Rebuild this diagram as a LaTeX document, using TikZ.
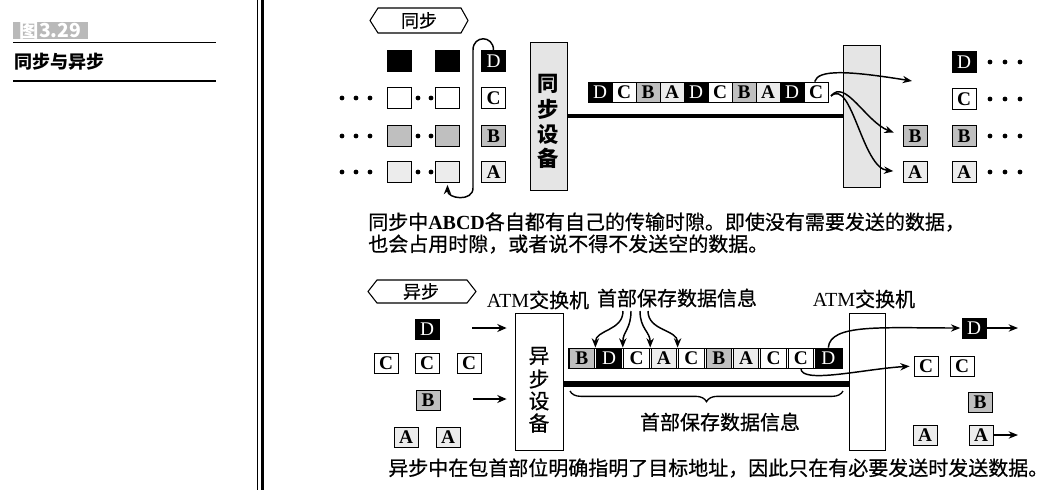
\documentclass[tikz,border=0pt]{standalone}
\usepackage{fontspec}
\setmainfont{Liberation Serif}
\newfontfamily\cjk{Noto Sans CJK SC}
\newfontfamily\cjkm[FakeBold=0.6]{Noto Sans CJK SC}
\usetikzlibrary{arrows.meta,decorations.pathreplacing,calc}
\begin{document}
\begin{tikzpicture}[x=0.75pt,y=-0.75pt,
  cell/.style={draw=black, line width=0.6pt, minimum width=18pt, minimum height=15.75pt, inner sep=0pt, font=\bfseries\fontsize{14.5pt}{14.5pt}\selectfont},
  bk/.style={cell, fill=black, text=white, font=\fontsize{14.5pt}{14.5pt}\selectfont},
  wh/.style={cell, fill=white},
  gd/.style={cell, fill=gray!50},
  gl/.style={cell, fill=gray!15},
  zh/.style={inner sep=0pt, font=\cjkm\fontsize{15pt}{15pt}\selectfont},
  zhv/.style={inner sep=0pt, font=\cjk\bfseries\fontsize{16pt}{16pt}\selectfont},
  arr/.style={line width=1.1pt, -{Stealth[length=7pt,width=5.5pt]}},
  fatarr/.style={line width=1.5pt, -{Stealth[length=7pt,width=6pt]}},
  tagline/.style={line width=0.8pt},
  dev/.style={draw=black, line width=0.6pt, inner sep=0pt},
]
\useasboundingbox (0,0) rectangle (1057,490);

% ---------- left panel ----------
\node[fill=gray!55, text=white, minimum width=56.25pt, minimum height=12.75pt, inner sep=0pt, font=\cjk\bfseries\fontsize{14.5pt}{14.5pt}\selectfont] (fig) at (50.5,30.5) {图3.29};
\draw[line width=1.1pt] (13,42.5) -- (216,42.5);
\node[anchor=west, inner sep=0pt, font=\cjk\bfseries\fontsize{13.5pt}{13.5pt}\selectfont] (ttl) at (14,62) {同步与异步};
\draw[line width=0.9pt] (13,81) -- (216,81);
\draw[line width=0.8pt] (257.5,0) -- (257.5,490);
\draw[line width=2.4pt] (262.5,0) -- (262.5,490);

% ---------- synchronous ----------
\draw[tagline] (370,20.5) -- (378,8) -- (461,8) -- (468,20.5) -- (461,33) -- (378,33) -- cycle;
\node[zh, font=\cjkm\fontsize{13.5pt}{13.5pt}\selectfont] (synctag) at (419,20.5) {同步};

\node[bk] (d1) at (399.5,61) {};
\node[bk] (d2) at (447.5,61) {};
\node[bk] (d3) at (493.5,61) {D};
\node[wh] (c1) at (399.5,98) {};
\node[wh] (c2) at (447.5,98) {};
\node[wh] (c3) at (493.5,98) {C};
\node[gd] (b1) at (399.5,136) {};
\node[gd] (b2) at (447.5,136) {};
\node[gd] (b3) at (493.5,136) {B};
\node[gl] (a1) at (399.5,172) {};
\node[gl] (a2) at (447.5,172) {};
\node[gl] (a3) at (493.5,172) {A};
\foreach \y in {98,136,172}{\foreach \x in {342,356,370,418,431}{\fill (\x,\y) circle (1.8pt);}}

\draw[arr, shorten >=1.5pt] (d3.north) .. controls +(0,-15) and +(0,-15) .. (473,50) -- (473,188) .. controls +(0,14) and +(0,16) .. (a2.south);

\node[dev, fill=gray!20, minimum width=27.75pt, minimum height=111pt] (syncdev) at (548.5,116) {};
\node[zhv] (sy1) at (548.5,84) {同};
\node[zhv] (sy2) at (548.5,109) {步};
\node[zhv] (sy3) at (548.5,134) {设};
\node[zhv] (sy4) at (548.5,158) {备};

\node[dev, fill=gray!20, minimum width=27.75pt, minimum height=106.5pt] (band) at (861.5,116) {};
\draw[line width=3.4pt] (syncdev.east) -- (band.west);

\foreach \s/\l [count=\i from 0] in {bk/D,wh/C,gd/B,gl/A,bk/D,wh/C,gd/B,gl/A,bk/D,wh/C}
  \node[\s, minimum height=15pt] (s\i) at (600+24*\i,92) {\l};

\node[bk] (rD) at (964,62) {D};
\node[wh] (rC) at (964,99) {C};
\node[gd] (rB2) at (964,136) {B};
\node[gl] (rA2) at (964,172) {A};
\node[gd] (rB1) at (915,136) {B};
\node[gl] (rA1) at (915,172) {A};
\foreach \y in {62,99,136,172}{\foreach \x in {990,1005,1020}{\fill (\x,\y) circle (1.8pt);}}

\coordinate (e1) at (912,81);
\coordinate (c0) at (831,96);
\draw[arr] ([xshift=-1pt]s9.north) .. controls (818,69) and (850,71) .. (e1);
\draw[arr, shorten >=7pt] (c0) .. controls (845,78) and (866,122) .. (rB1.west);
\draw[arr, shorten >=7pt] (c0) .. controls (852,78) and (862,168) .. (rA1.west);

\node[zh, anchor=west] (cap1) at (368,222) {同步中{\rmfamily\bfseries ABCD}各自都有自己的传输时隙。即使没有需要发送的数据，};
\node[zh, anchor=west] (cap2) at (368,244) {也会占用时隙，或者说不得不发送空的数据。};

% ---------- asynchronous ----------
\draw[tagline] (368,291.5) -- (377,280) -- (467,280) -- (476,291.5) -- (467,303) -- (377,303) -- cycle;
\node[zh, font=\cjkm\fontsize{13.5pt}{13.5pt}\selectfont] (asynctag) at (421,291.5) {异步};
\node[zh] (atm1) at (538,300) {{\rmfamily ATM}交换机};
\node[zh] (atm2) at (864,299) {{\rmfamily ATM}交换机};

\node[bk, minimum height=15pt] (aD) at (427,329) {D};
\node[wh, minimum height=15pt] (aC1) at (386,363) {C};
\node[wh, minimum height=15pt] (aC2) at (427,363) {C};
\node[wh, minimum height=15pt] (aC3) at (469,363) {C};
\node[gd, minimum height=15pt] (aB) at (428,400) {B};
\node[gl, minimum height=15pt] (aA1) at (406,437) {A};
\node[gl, minimum height=15pt] (aA2) at (448,437) {A};

\node[dev, fill=white, minimum width=36pt, minimum height=102.75pt] (adev) at (539,381.5) {};
\node[zh, font=\cjkm\fontsize{15.5pt}{15.5pt}\selectfont] (as1) at (539,356) {异};
\node[zh, font=\cjkm\fontsize{15.5pt}{15.5pt}\selectfont] (as2) at (539,379) {步};
\node[zh, font=\cjkm\fontsize{15.5pt}{15.5pt}\selectfont] (as3) at (539,401) {设};
\node[zh, font=\cjkm\fontsize{15.5pt}{15.5pt}\selectfont] (as4) at (539,423) {备};

\coordinate (pD) at (472,328);
\coordinate (pB) at (473,399);
\draw[fatarr, shorten >=6pt] (pD) -- (pD -| adev.west);
\draw[fatarr, shorten >=6pt] (pB) -- (pB -| adev.west);

\node[dev, fill=white, minimum width=27pt, minimum height=102.75pt] (atmbox) at (867,381.5) {};
\coordinate (ly) at (0,384);
\draw[line width=3.8pt] (adev.east |- ly) -- (atmbox.west |- ly);

\draw[line width=0.6pt] (568,348) rectangle (842,368);
\foreach \s/\l [count=\i from 1] in {gd/B,bk/D,wh/C,gl/A,wh/C,gd/B,gl/A,wh/C,wh/C,bk/D}
  \node[\s, minimum width=19pt, minimum height=15pt] (t\i) at (554.3+27.4*\i,358) {\l};

\draw[decorate, decoration={brace, mirror, amplitude=8pt}, line width=1pt] (570,391) -- (843,391);
\node[zh] (hdr2) at (720,422) {首部保存数据信息};
\node[zh] (hdr1) at (677,298) {首部保存数据信息};

\coordinate (h1) at (623,311);
\coordinate (h2) at (631,311);
\coordinate (h3) at (640,311);
\coordinate (h4) at (648,311);
\draw[arr] (h1) .. controls +(0,20) and +(0,-18) .. ($(t1.north east)!.5!(t2.north west)$);
\draw[arr] (h2) .. controls +(0,18) and +(0,-16) .. ($(t2.north east)!.5!(t3.north west)$);
\draw[arr] (h3) .. controls +(0,18) and +(0,-16) .. ($(t3.north east)!.5!(t4.north west)$);
\draw[arr] (h4) .. controls +(0,20) and +(0,-18) .. ($(t4.north east)!.5!(t5.north west)$);

\node[bk, minimum height=15pt] (rd) at (974,328) {D};
\node[wh, minimum height=15pt] (rc1) at (926,366) {C};
\node[wh, minimum height=15pt] (rc2) at (962,366) {C};
\node[gd, minimum height=15pt] (rb) at (980,402) {B};
\node[gl, minimum height=15pt] (ra1) at (925,435) {A};
\node[gl, minimum height=15pt] (ra2) at (981,435) {A};

\draw[arr, shorten >=1pt] (t10.north) .. controls +(2,-24) and +(-80,0) .. (rd.west);
\draw[arr, shorten >=3pt] (t9.south) .. controls +(0,16) and +(-50,3) .. (rc1.west);

\coordinate (o1) at (1018,328);
\coordinate (o2) at (1018,435);
\draw[arr] (rd.east) -- (o1);
\draw[arr] (ra2.east) -- (o2);

\node[zh, anchor=west] (cap3) at (388,468) {异步中在包首部位明确指明了目标地址，因此只在有必要发送时发送数据。};
\end{tikzpicture}
\end{document}
